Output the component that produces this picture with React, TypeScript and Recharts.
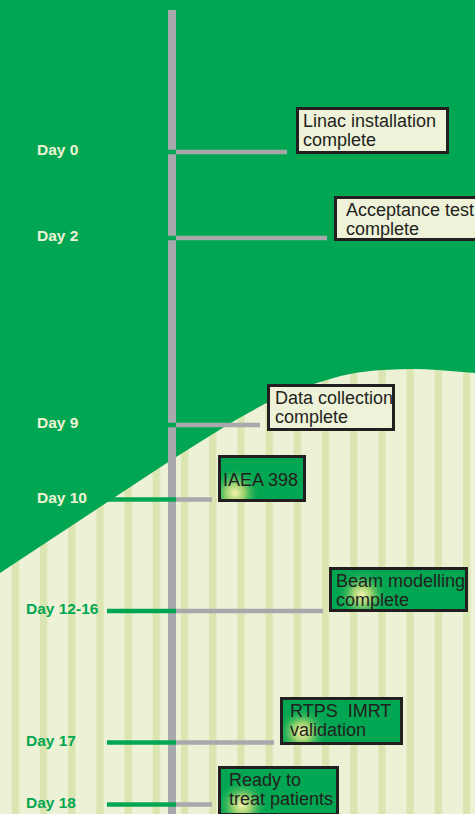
import { ComposedChart, Area, Scatter, XAxis, YAxis, ReferenceLine } from "recharts";

// Milestones along the commissioning timeline (top to bottom).
const dayLabels = ["Day 0", "Day 2", "Day 9", "Day 10", "Day 12-16", "Day 17", "Day 18"];
const milestoneText = [
  ["Linac installation", "complete"],
  ["Acceptance test", "complete"],
  ["Data collection", "complete"],
  ["IAEA 398"],
  ["Beam modelling", "complete"],
  ["RTPS  IMRT", "validation"],
  ["Ready to", "treat patients"],
];
// Position of each milestone on the vertical timeline (layout units, top = 0).
const rowPosition = [152, 238, 425, 499.5, 611, 742.5, 804.5];
// Where each branch ends before its box.
const branchEnd = [287, 327, 260, 212, 323, 274, 212];

// Boundary between the dark and the striped background.
const boundaryX = [0, 50, 100, 150, 200, 250, 283, 317, 350, 383, 417, 450, 475];
const boundaryY = [573, 540, 507, 474, 442, 412, 395, 383, 374, 370, 369, 371, 373];

// Layout / style tables (kept apart from the data above).
const W = 475;
const H = 814;
const SPINE_X = 172;
const SPINE_TOP = 10;
const GREEN_START = 107;
const BRANCH_START = 176;
const labelX = [37, 37, 37, 37, 26, 26, 26];
const boxGap = [9, 7, 7, 6, 6, 6, 6];
const boxWidth = [153, 150, 128, 88, 139, 123, 121];
const boxHeight = [47, 45, 47, 47, 45, 48, 50];
const boxTopOffset = [-45, -42, -41, -44.5, -44, -45.5, -38.5];
const textIndent = [7, 12, 8, 5, 7, 10, 11];
const glowDx = [0, 0, 0, 17, 33, 22, 24];
const glowDy = [0, 0, 0, -9, -17, -13, -11];

const GREEN = "#00A651";
const LIGHT = "#EDF2D6";
const STRIPE = "#DAE5B2";
const BOX_LIGHT = "#EEF2D9";
const GRAY = "#A7A9AC";
const BORDER = "#231F20";
const FONT = '"Liberation Sans", Arial, Helvetica, sans-serif';

const boundaryData = boundaryX.map((x, i) => ({ x, y: boundaryY[i] }));
const boxPoints = rowPosition.map((y, i) => ({ x: branchEnd[i], y, i }));
const labelPoints = rowPosition.map((y, i) => ({ x: labelX[i], y, i }));

function MilestoneBox(props: any) {
  const { cx, cy, payload } = props;
  const i = payload.i;
  const left = cx + boxGap[i];
  const top = cy + boxTopOffset[i];
  const w = boxWidth[i];
  const h = boxHeight[i];
  const green = i >= 3;
  const lines = milestoneText[i];
  const baseline = lines.length === 1 ? top + h / 2 + 7 : top + 20;
  const tx = left + textIndent[i];
  return (
    <g>
      <defs>
        <clipPath id={`box-clip-${i}`}>
          <rect x={left} y={top} width={w} height={h} />
        </clipPath>
      </defs>
      <rect x={left + 1.5} y={top + 1.5} width={w - 3} height={h - 3} fill={green ? GREEN : BOX_LIGHT} />
      {green && (
        <circle
          cx={left + glowDx[i]}
          cy={top + h + glowDy[i]}
          r={26}
          fill="url(#glow)"
          clipPath={`url(#box-clip-${i})`}
        />
      )}
      <rect x={left + 1.5} y={top + 1.5} width={w - 3} height={h - 3} fill="none" stroke={BORDER} strokeWidth={3} />
      <text x={tx} y={baseline} fontFamily={FONT} fontSize={18} fill={BORDER} style={{ whiteSpace: "pre" }}>
        {lines.map((line, k) => (
          <tspan key={k} x={tx} dy={k === 0 ? 0 : 19}>
            {line}
          </tspan>
        ))}
      </text>
    </g>
  );
}

function DayLabel(props: any) {
  const { cx, cy, payload } = props;
  const i = payload.i;
  return (
    <text x={cx} y={cy + 3} fontFamily={FONT} fontSize={15.5} fontWeight="bold" fill={i >= 4 ? GREEN : "#EEF3D8"}>
      {dayLabels[i]}
    </text>
  );
}

export default function App() {
  return (
    <div style={{ position: "absolute", left: 0, top: 0, width: W, height: H, background: GREEN, overflow: "hidden" }}>
      <ComposedChart width={W} height={H} data={boundaryData} margin={{ top: 0, right: 0, bottom: 0, left: 0 }}>
        <defs>
          <pattern id="stripes" patternUnits="userSpaceOnUse" x={11.7} y={0} width={28.2} height={10}>
            <rect x={0} y={0} width={28.2} height={10} fill={LIGHT} />
            <rect x={0} y={0} width={7.3} height={10} fill={STRIPE} />
          </pattern>
          <radialGradient id="glow">
            <stop offset="0%" stopColor="#F8F5B2" stopOpacity={1} />
            <stop offset="35%" stopColor="#D2E27A" stopOpacity={0.75} />
            <stop offset="100%" stopColor={GREEN} stopOpacity={0} />
          </radialGradient>
        </defs>
        <XAxis type="number" dataKey="x" domain={[0, W]} hide />
        <YAxis type="number" dataKey="y" domain={[0, H]} reversed hide />
        <Area
          type="monotone"
          dataKey="y"
          baseValue={H}
          fill="url(#stripes)"
          fillOpacity={1}
          stroke="none"
          dot={false}
          activeDot={false}
          isAnimationActive={false}
        />
        <ReferenceLine
          segment={[
            { x: SPINE_X, y: SPINE_TOP },
            { x: SPINE_X, y: H },
          ]}
          stroke={GRAY}
          strokeWidth={8}
        />
        {rowPosition.map((y, i) => (
          <ReferenceLine
            key={`g-${i}`}
            segment={[
              { x: GREEN_START, y },
              { x: BRANCH_START, y },
            ]}
            stroke={GREEN}
            strokeWidth={4.5}
          />
        ))}
        {rowPosition.map((y, i) => (
          <ReferenceLine
            key={`b-${i}`}
            segment={[
              { x: BRANCH_START, y },
              { x: branchEnd[i], y },
            ]}
            stroke={GRAY}
            strokeWidth={4.5}
          />
        ))}
        <Scatter data={labelPoints} shape={(p: any) => <DayLabel {...p} />} isAnimationActive={false} />
        <Scatter data={boxPoints} shape={(p: any) => <MilestoneBox {...p} />} isAnimationActive={false} />
      </ComposedChart>
    </div>
  );
}
